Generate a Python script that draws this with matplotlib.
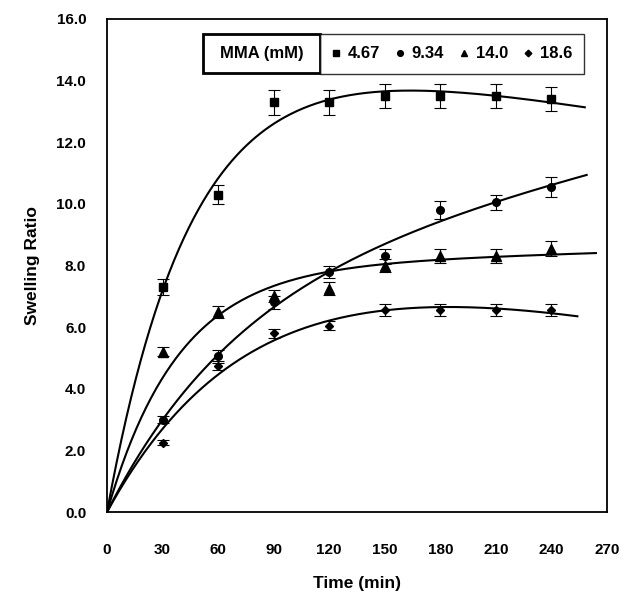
import matplotlib.pyplot as plt
import numpy as np
from matplotlib.lines import Line2D
from matplotlib.patches import Rectangle

plt.rcParams["font.family"] = ["Liberation Sans", "DejaVu Sans"]
plt.rcParams["font.weight"] = "bold"

time = [30, 60, 90, 120, 150, 180, 210, 240]

labels = ["4.67", "9.34", "14.0", "18.6"]
markers = ["s", "o", "^", "D"]
marker_sizes = [5.5, 5.5, 6.5, 4.5]

ratio_467 = [7.3, 10.3, 13.3, 13.3, 13.5, 13.5, 13.5, 13.4]
ratio_934 = [3.0, 5.05, 6.8, 7.8, 8.3, 9.8, 10.05, 10.55]
ratio_140 = [5.2, 6.5, 7.0, 7.25, 8.0, 8.3, 8.3, 8.55]
ratio_186 = [2.25, 4.75, 5.8, 6.05, 6.55, 6.55, 6.55, 6.55]

err_467 = [0.25, 0.3, 0.4, 0.4, 0.4, 0.4, 0.4, 0.4]
err_934 = [0.1, 0.2, 0.2, 0.2, 0.25, 0.28, 0.25, 0.32]
err_140 = [0.15, 0.2, 0.2, 0.2, 0.2, 0.22, 0.22, 0.25]
err_186 = [0.08, 0.15, 0.15, 0.15, 0.2, 0.2, 0.2, 0.2]

# fitted trend lines: end time and upper bound on the rate constant
fit_end = [258, 259, 264, 254]
k_max = [0.1, 0.1, 0.026, 0.016]


def trend(t, y, kmax, t_new):
    # S = a*(1 - exp(-k t)) + c*t, least squares with a grid over k
    t = np.asarray(t, float)
    y = np.asarray(y, float)
    best = None
    for k in np.linspace(0.001, kmax, 500):
        A = np.column_stack([1 - np.exp(-k * t), t])
        coef, *_ = np.linalg.lstsq(A, y, rcond=None)
        r = np.sum((A @ coef - y) ** 2)
        if best is None or r < best[0]:
            best = (r, k, coef)
    _, k, (a, c) = best
    return a * (1 - np.exp(-k * t_new)) + c * t_new


def main():
    series = [ratio_467, ratio_934, ratio_140, ratio_186]
    errors = [err_467, err_934, err_140, err_186]

    fig = plt.figure(figsize=(6.24, 5.99), dpi=100)
    ax = fig.add_axes([0.1715, 0.1452, 0.8013, 0.8231])

    for y, e, mk, ms, end, km in zip(series, errors, markers, marker_sizes, fit_end, k_max):
        tt = np.linspace(0, end, 300)
        ax.plot(tt, trend(time, y, km, tt), color="black", lw=1.5)
        ax.errorbar(time, y, yerr=e, fmt=mk, color="black", ms=ms,
                    ecolor="black", elinewidth=0.8, capsize=4, capthick=0.8)

    ax.set_xlim(0, 270)
    ax.set_ylim(0, 16)
    ax.set_xticks(np.arange(0, 271, 30))
    ax.set_yticks(np.arange(0, 16.1, 2))
    ax.set_yticklabels([f"{v:.1f}" for v in np.arange(0, 16.1, 2)])
    ax.tick_params(length=0, labelsize=11)
    ax.tick_params(axis="x", pad=22)
    ax.tick_params(axis="y", pad=15)
    for s in ax.spines.values():
        s.set_linewidth(1.3)

    ax.set_xlabel("Time (min)", fontsize=12.5, fontweight="bold", labelpad=14)
    ax.set_ylabel("Swelling Ratio", fontsize=12.5, fontweight="bold", labelpad=12)

    handles = [Line2D([], [], marker=mk, ls="none", color="black", ms=ms * 0.75)
               for mk, ms in zip(markers, marker_sizes)]
    leg = ax.legend(handles, labels, ncol=4, loc="upper left",
                    bbox_to_anchor=(0.426, 0.9696), frameon=True, fancybox=False,
                    edgecolor="black", fontsize=12, handlelength=0.4,
                    handletextpad=0.5, columnspacing=1.0, borderpad=0.75,
                    borderaxespad=0)
    leg.get_frame().set_linewidth(1.0)
    ax.add_patch(Rectangle((0.192, 0.8905), 0.234, 0.0791, transform=ax.transAxes,
                           fc="white", ec="black", lw=2.0, zorder=5))
    ax.text(0.309, 0.930, "MMA (mM)", transform=ax.transAxes, fontsize=12,
            fontweight="bold", ha="center", va="center", zorder=6)

    fig.savefig("out.png", dpi=100)


if __name__ == "__main__":
    main()
